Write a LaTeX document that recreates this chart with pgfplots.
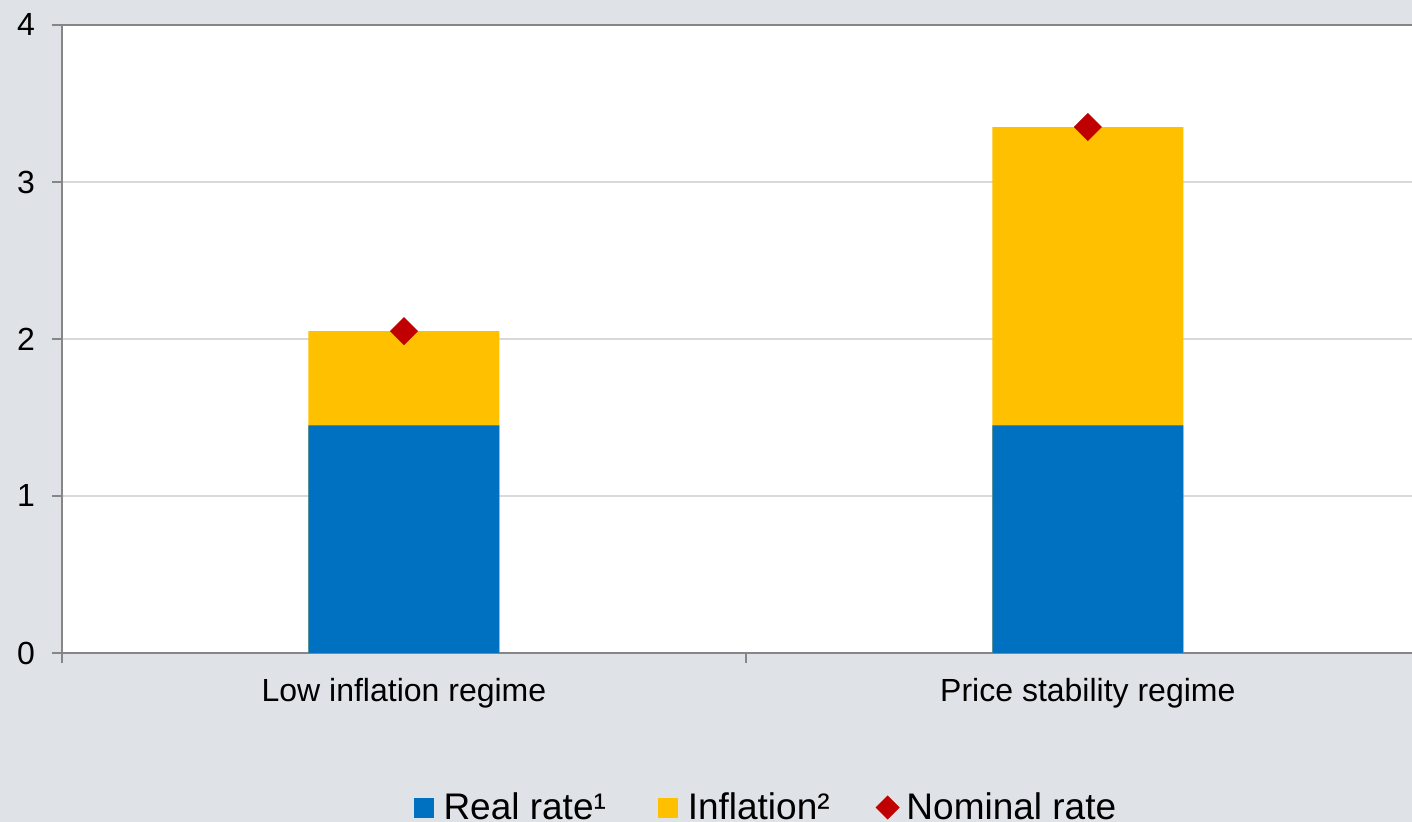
\documentclass[border=0pt]{standalone}
\usepackage{pgfplots}
\pgfplotsset{compat=1.18}
\usepackage{fontspec}
\setmainfont{Liberation Sans}
\definecolor{bg}{HTML}{DFE2E7}
\definecolor{axisgray}{HTML}{868686}
\definecolor{gridgray}{HTML}{D9D9D9}
\definecolor{realblue}{HTML}{0070C0}
\definecolor{inflyellow}{HTML}{FFC000}
\definecolor{nomred}{HTML}{C00000}
\begin{document}
\begin{tikzpicture}
\fill[bg] (0,0) rectangle (706pt,411pt);
\useasboundingbox (0,0) rectangle (706pt,411pt);
\begin{axis}[
  at={(31pt,84.5pt)}, anchor=south west,
  scale only axis, width=675pt, height=314pt,
  xmin=0, xmax=1.974, ymin=0, ymax=4,
  axis x line=bottom, axis y line=left,
  axis line style={-, draw=axisgray, line width=1pt},
  xtick={0,1}, xticklabels={},
  extra x ticks={0.5,1.5},
  extra x tick labels={Low inflation regime, Price stability regime},
  extra x tick style={major tick length=0pt, grid=none, xticklabel style={yshift=-9pt}},
  ytick={0,1,2,3,4},
  ymajorgrids, grid style={gridgray, line width=0.75pt},
  tick align=outside, major tick length=5pt,
  tick style={axisgray, line width=1pt},
  ticklabel style={font=\fontsize{16}{19}\selectfont},
  yticklabel style={xshift=-5pt},
  /pgf/number format/assume math mode=true,
  axis background/.style={fill=white},
  clip=false,
  legend style={at={(0.5222,-0.246)}, anchor=center, draw=none, fill=none,
    font=\fontsize{18.5}{22}\selectfont, inner sep=0pt,
    /tikz/column 1/.style={column sep=3pt},
    /tikz/column 2/.style={column sep=24pt},
    /tikz/column 3/.style={column sep=3pt},
    /tikz/column 4/.style={column sep=21pt},
    /tikz/column 5/.style={column sep=1.5pt}},
  legend columns=3,
  legend cell align=left,
]
\addplot[ybar, bar width=95.5pt, bar shift=0pt, fill=inflyellow, draw=none, forget plot]
  coordinates {(0.5,2.05) (1.5,3.35)};
\addplot[ybar, bar width=95.5pt, bar shift=0pt, fill=realblue, draw=none, forget plot]
  coordinates {(0.5,1.45) (1.5,1.45)};
\addplot[only marks, color=nomred, mark=square*, mark size=4.77pt, mark options={rotate=45, fill=nomred, draw=nomred}, forget plot]
  coordinates {(0.5,2.05) (1.5,3.35)};
\draw[axisgray, line width=1pt] (rel axis cs:0,1) -- (rel axis cs:1,1);
\addlegendimage{legend image code/.code={\fill[realblue] (0pt,-4.75pt) rectangle (9.5pt,4.75pt);}}
\addlegendentry{Real rate¹}
\addlegendimage{legend image code/.code={\fill[inflyellow] (0pt,-4.75pt) rectangle (9.5pt,4.75pt);}}
\addlegendentry{Inflation²}
\addlegendimage{legend image code/.code={\fill[nomred] (5.75pt,-5.75pt) -- (11.5pt,0pt) -- (5.75pt,5.75pt) -- (0pt,0pt) -- cycle;}}
\addlegendentry{Nominal rate}
\end{axis}
\end{tikzpicture}
\end{document}
